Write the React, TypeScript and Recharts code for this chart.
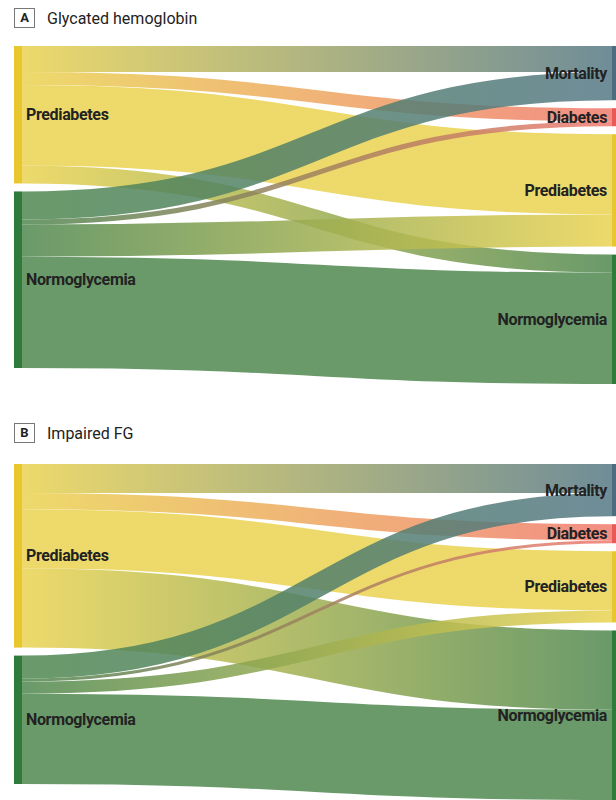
import React from 'react';
import { Sankey } from 'recharts';

// Node names: two baseline states (left) and four follow-up states (right)
const stateNames = ['Prediabetes', 'Normoglycemia', 'Mortality', 'Diabetes', 'Prediabetes', 'Normoglycemia'];
const sourceIndex = [0, 1];
const targetIndex = [2, 3, 4, 5];

// Panel A – glycated hemoglobin: flows to Mortality, Diabetes, Prediabetes, Normoglycemia
const hbaFromPrediabetes = [26, 13, 80, 18];
const hbaFromNormoglycemia = [28, 5, 32, 111];

// Panel B – impaired fasting glucose
const fgFromPrediabetes = [29, 16, 59, 79];
const fgFromNormoglycemia = [23, 3, 12, 90];

const panelLetters = ['A', 'B'];
const panelTitles = ['Glycated hemoglobin', 'Impaired FG'];

const nodeColors: Record<string, string> = {
  Prediabetes: '#E8C62E',
  Normoglycemia: '#2E7B3C',
  Mortality: '#4C6C80',
  Diabetes: '#EA5A55',
};
const linkColors: Record<string, string> = {
  Prediabetes: '#EAD351',
  Normoglycemia: '#508850',
  Mortality: '#567986',
  Diabetes: '#F07A6E',
};

const FONT = "Roboto, 'Noto Sans', sans-serif";

function buildData(fromPre: number[], fromNormo: number[]) {
  const nodes = stateNames.map((name) => ({ name }));
  const links: { source: number; target: number; value: number }[] = [];
  [fromPre, fromNormo].forEach((vals, s) =>
    vals.forEach((v, t) => links.push({ source: sourceIndex[s], target: targetIndex[t], value: v }))
  );
  return { nodes, links };
}

const makeLink = (prefix: string) => (props: any) => {
  const { sourceX, sourceY, sourceControlX, targetX, targetY, targetControlX, linkWidth, index, payload } = props;
  const id = `${prefix}-grad-${index}`;
  const s = linkColors[payload.source.name];
  const t = linkColors[payload.target.name];
  return (
    <g>
      <defs>
        <linearGradient id={id} gradientUnits="userSpaceOnUse" x1={sourceX} y1={0} x2={targetX} y2={0}>
          <stop offset="0%" stopColor={s} />
          <stop offset="100%" stopColor={t} />
        </linearGradient>
      </defs>
      <path
        d={`M${sourceX},${sourceY} C${sourceControlX},${sourceY} ${targetControlX},${targetY} ${targetX},${targetY}`}
        fill="none"
        stroke={`url(#${id})`}
        strokeWidth={linkWidth}
        strokeOpacity={0.85}
      />
    </g>
  );
};

const NodeShape = (props: any) => {
  const { x, y, width, height, payload } = props;
  const isLeft = x < 300;
  const color = nodeColors[payload.name];
  return (
    <g>
      <rect x={x} y={y} width={width} height={height} fill={color} />
      <text
        x={isLeft ? x + width + 4 : x - 5}
        y={y + height / 2}
        textAnchor={isLeft ? 'start' : 'end'}
        dominantBaseline="central"
        fontFamily={FONT}
        fontWeight={700}
        fontSize={16}
        letterSpacing={-0.35}
        fill="#222"
      >
        {payload.name}
      </text>
    </g>
  );
};

const Title = ({ letter, title, top }: { letter: string; title: string; top: number }) => (
  <div style={{ position: 'absolute', left: 14, top, display: 'flex', alignItems: 'center', fontFamily: FONT }}>
    <div
      style={{
        width: 21,
        height: 20,
        border: '1px solid #777',
        boxSizing: 'border-box',
        fontWeight: 700,
        fontSize: 13,
        lineHeight: '18px',
        textAlign: 'center',
        color: '#222',
      }}
    >
      {letter}
    </div>
    <div style={{ marginLeft: 12, fontSize: 16, color: '#222' }}>{title}</div>
  </div>
);

export default function App() {
  const dataA = buildData(hbaFromPrediabetes, hbaFromNormoglycemia);
  const dataB = buildData(fgFromPrediabetes, fgFromNormoglycemia);
  return (
    <div
      style={{
        position: 'fixed',
        left: 0,
        top: 0,
        width: 616,
        height: 800,
        overflow: 'hidden',
        background: '#fff',
      }}
    >
      <Title letter={panelLetters[0]} title={panelTitles[0]} top={8} />
      <div style={{ position: 'absolute', left: 8, top: 46 }}>
        <Sankey
          width={612}
          height={338}
          data={dataA}
          nodeWidth={8}
          nodePadding={8}
          iterations={0}
          sort={false}
          linkCurvature={0.5}
          margin={{ top: 0, right: 0, bottom: 0, left: 6 }}
          node={NodeShape}
          link={makeLink('a')}
        />
      </div>
      <Title letter={panelLetters[1]} title={panelTitles[1]} top={423} />
      <div style={{ position: 'absolute', left: 8, top: 464 }}>
        <Sankey
          width={612}
          height={336}
          data={dataB}
          nodeWidth={8}
          nodePadding={8}
          iterations={0}
          sort={false}
          linkCurvature={0.5}
          margin={{ top: 0, right: 0, bottom: 0, left: 6 }}
          node={NodeShape}
          link={makeLink('b')}
        />
      </div>
    </div>
  );
}
